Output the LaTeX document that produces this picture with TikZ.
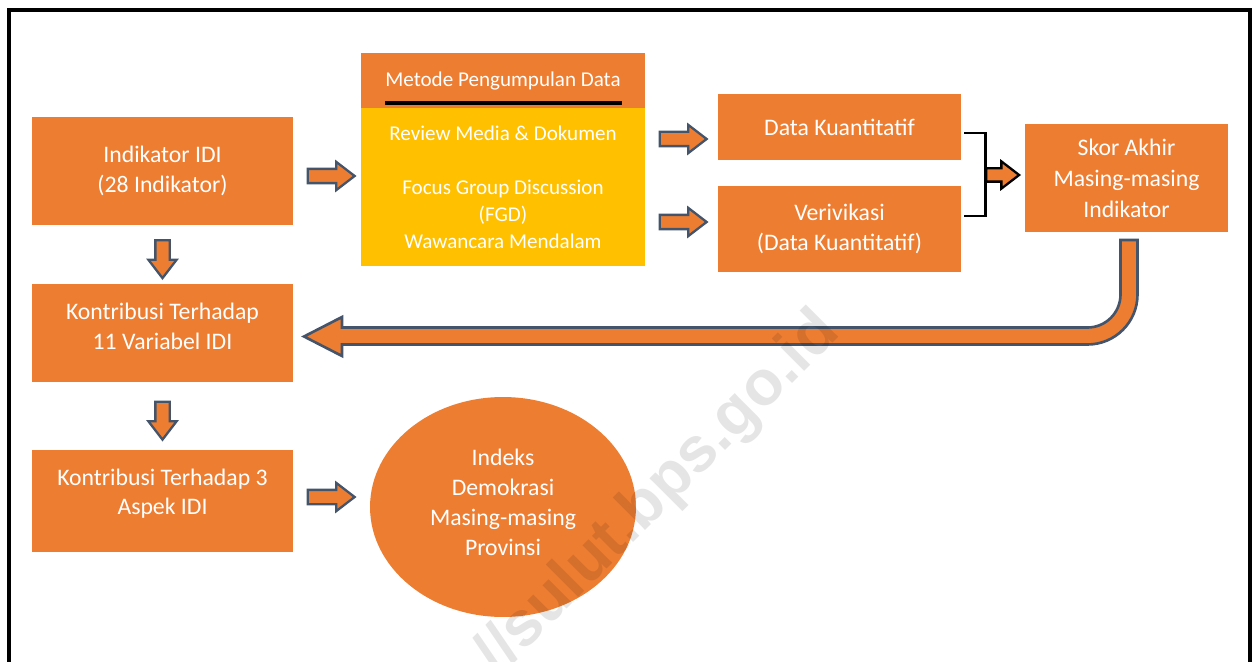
\documentclass[tikz,border=0pt]{standalone}
\usepackage{fontspec}
\setmainfont{Carlito}
\setsansfont{Liberation Sans}
\usetikzlibrary{shapes.arrows,shapes.geometric,calc}
\definecolor{oranye}{HTML}{ED7D31}
\definecolor{kuning}{HTML}{FFC000}
\definecolor{garispanah}{HTML}{44546A}

\begin{document}
\begin{tikzpicture}[x=0.02cm,y=-0.02cm,
    kotak/.style={fill=oranye,text=white,align=center,inner sep=0pt,
      font=\fontsize{13.5}{17}\selectfont},
    panah/.style={single arrow,draw=garispanah,fill=oranye,line width=1.3pt,
      inner sep=0.12cm,single arrow head extend=0.14cm,single arrow tip angle=75,
      minimum height=0.94cm},
    panahbawah/.style={panah,shape border rotate=270,minimum height=0.76cm},
    kurung/.style={draw=black,line width=1.7pt}]
  \useasboundingbox (0,0) rectangle (1254,662);
  \clip (0,0) rectangle (1254,662);
  \draw[line width=2.3pt] (9,10) rectangle (1250,720);

  % kolom kiri
  \node[kotak,minimum width=5.22cm,minimum height=2.16cm] (ind) at (162.5,171)
    {Indikator IDI\\(28 Indikator)};
  \node[kotak,minimum width=5.22cm,minimum height=1.96cm,text depth=0.28cm] (var) at (162.5,333)
    {Kontribusi Terhadap\\11 Variabel IDI};
  \node[kotak,minimum width=5.22cm,minimum height=2.04cm,text depth=0.37cm] (asp) at (162.5,501)
    {Kontribusi Terhadap 3\\Aspek IDI};
  \node[panahbawah] (p1) at ($(ind.south)!0.5!(var.north)$) {};
  \node[panahbawah] (p2) at ($(var.south)!0.5!(asp.north)$) {};

  % metode
  \node[kotak,minimum width=5.68cm,minimum height=1.12cm,font=\fontsize{12}{15.3}\selectfont]
    (judul) at (503,81) {Metode Pengumpulan Data};
  \node[kotak,fill=kuning,minimum width=5.68cm,minimum height=3.16cm,
    font=\fontsize{12}{15.3}\selectfont] (isi) at (503,187)
    {Review Media \& Dokumen\\[15.3pt]Focus Group Discussion\\(FGD)\\Wawancara Mendalam};
  \draw[line width=2.3pt] (385,103) -- (622,103);
  \node[panah] (p3) at (326.5,176) {};

  % data
  \node[kotak,minimum width=4.86cm,minimum height=1.32cm] (kuanti) at (839.5,127)
    {Data Kuantitatif};
  \node[kotak,minimum width=4.86cm,minimum height=1.72cm] (verif) at (839.5,229)
    {Verivikasi\\(Data Kuantitatif)};
  \node[panah] (p4) at (678.5,139) {};
  \node[panah] (p5) at (678.5,222) {};

  % skor akhir
  \node[kotak,minimum width=4.06cm,minimum height=2.16cm,
    font=\fontsize{13.5}{17.6}\selectfont,text depth=-0.16cm] (skor) at (1126.5,178)
    {Skor Akhir\\Masing-masing\\Indikator};
  \coordinate (kA) at (964,133);
  \coordinate (kB) at (964,216);
  \coordinate (kM) at (985,175);
  \draw[kurung] (kA) -| (kM) |- (kB);
  \node[panah,draw=black,inner sep=0.11cm,minimum height=0.66cm,anchor=tail] (p6) at (kM) {};

  % panah balik
  \filldraw[fill=oranye,draw=garispanah,line width=1.5pt]
    (1120.5,240) -- (1137.5,240) -- (1137.5,294.5) arc (0:90:50)
    -- (342,344.5) -- (342,356) -- (304,336.5) -- (342,317) -- (342,327.5)
    -- (1087.5,327.5) arc (90:0:33) -- cycle;

  % hasil
  \node[ellipse,fill=oranye,text=white,align=center,inner sep=0pt,text depth=0.2cm,
    minimum width=5.32cm,minimum height=4.4cm,font=\fontsize{13.5}{17}\selectfont]
    (indeks) at (503,507) {Indeks\\Demokrasi\\Masing-masing\\Provinsi};
  \node[panah] (p7) at (326.5,497) {};

  \node[rotate=45,anchor=base east,text=black,opacity=0.1,
    font=\sffamily\bfseries\fontsize{36}{36}\selectfont] (wm) at (846,330)
    {//sulut.bps.go.id};
\end{tikzpicture}
\end{document}
